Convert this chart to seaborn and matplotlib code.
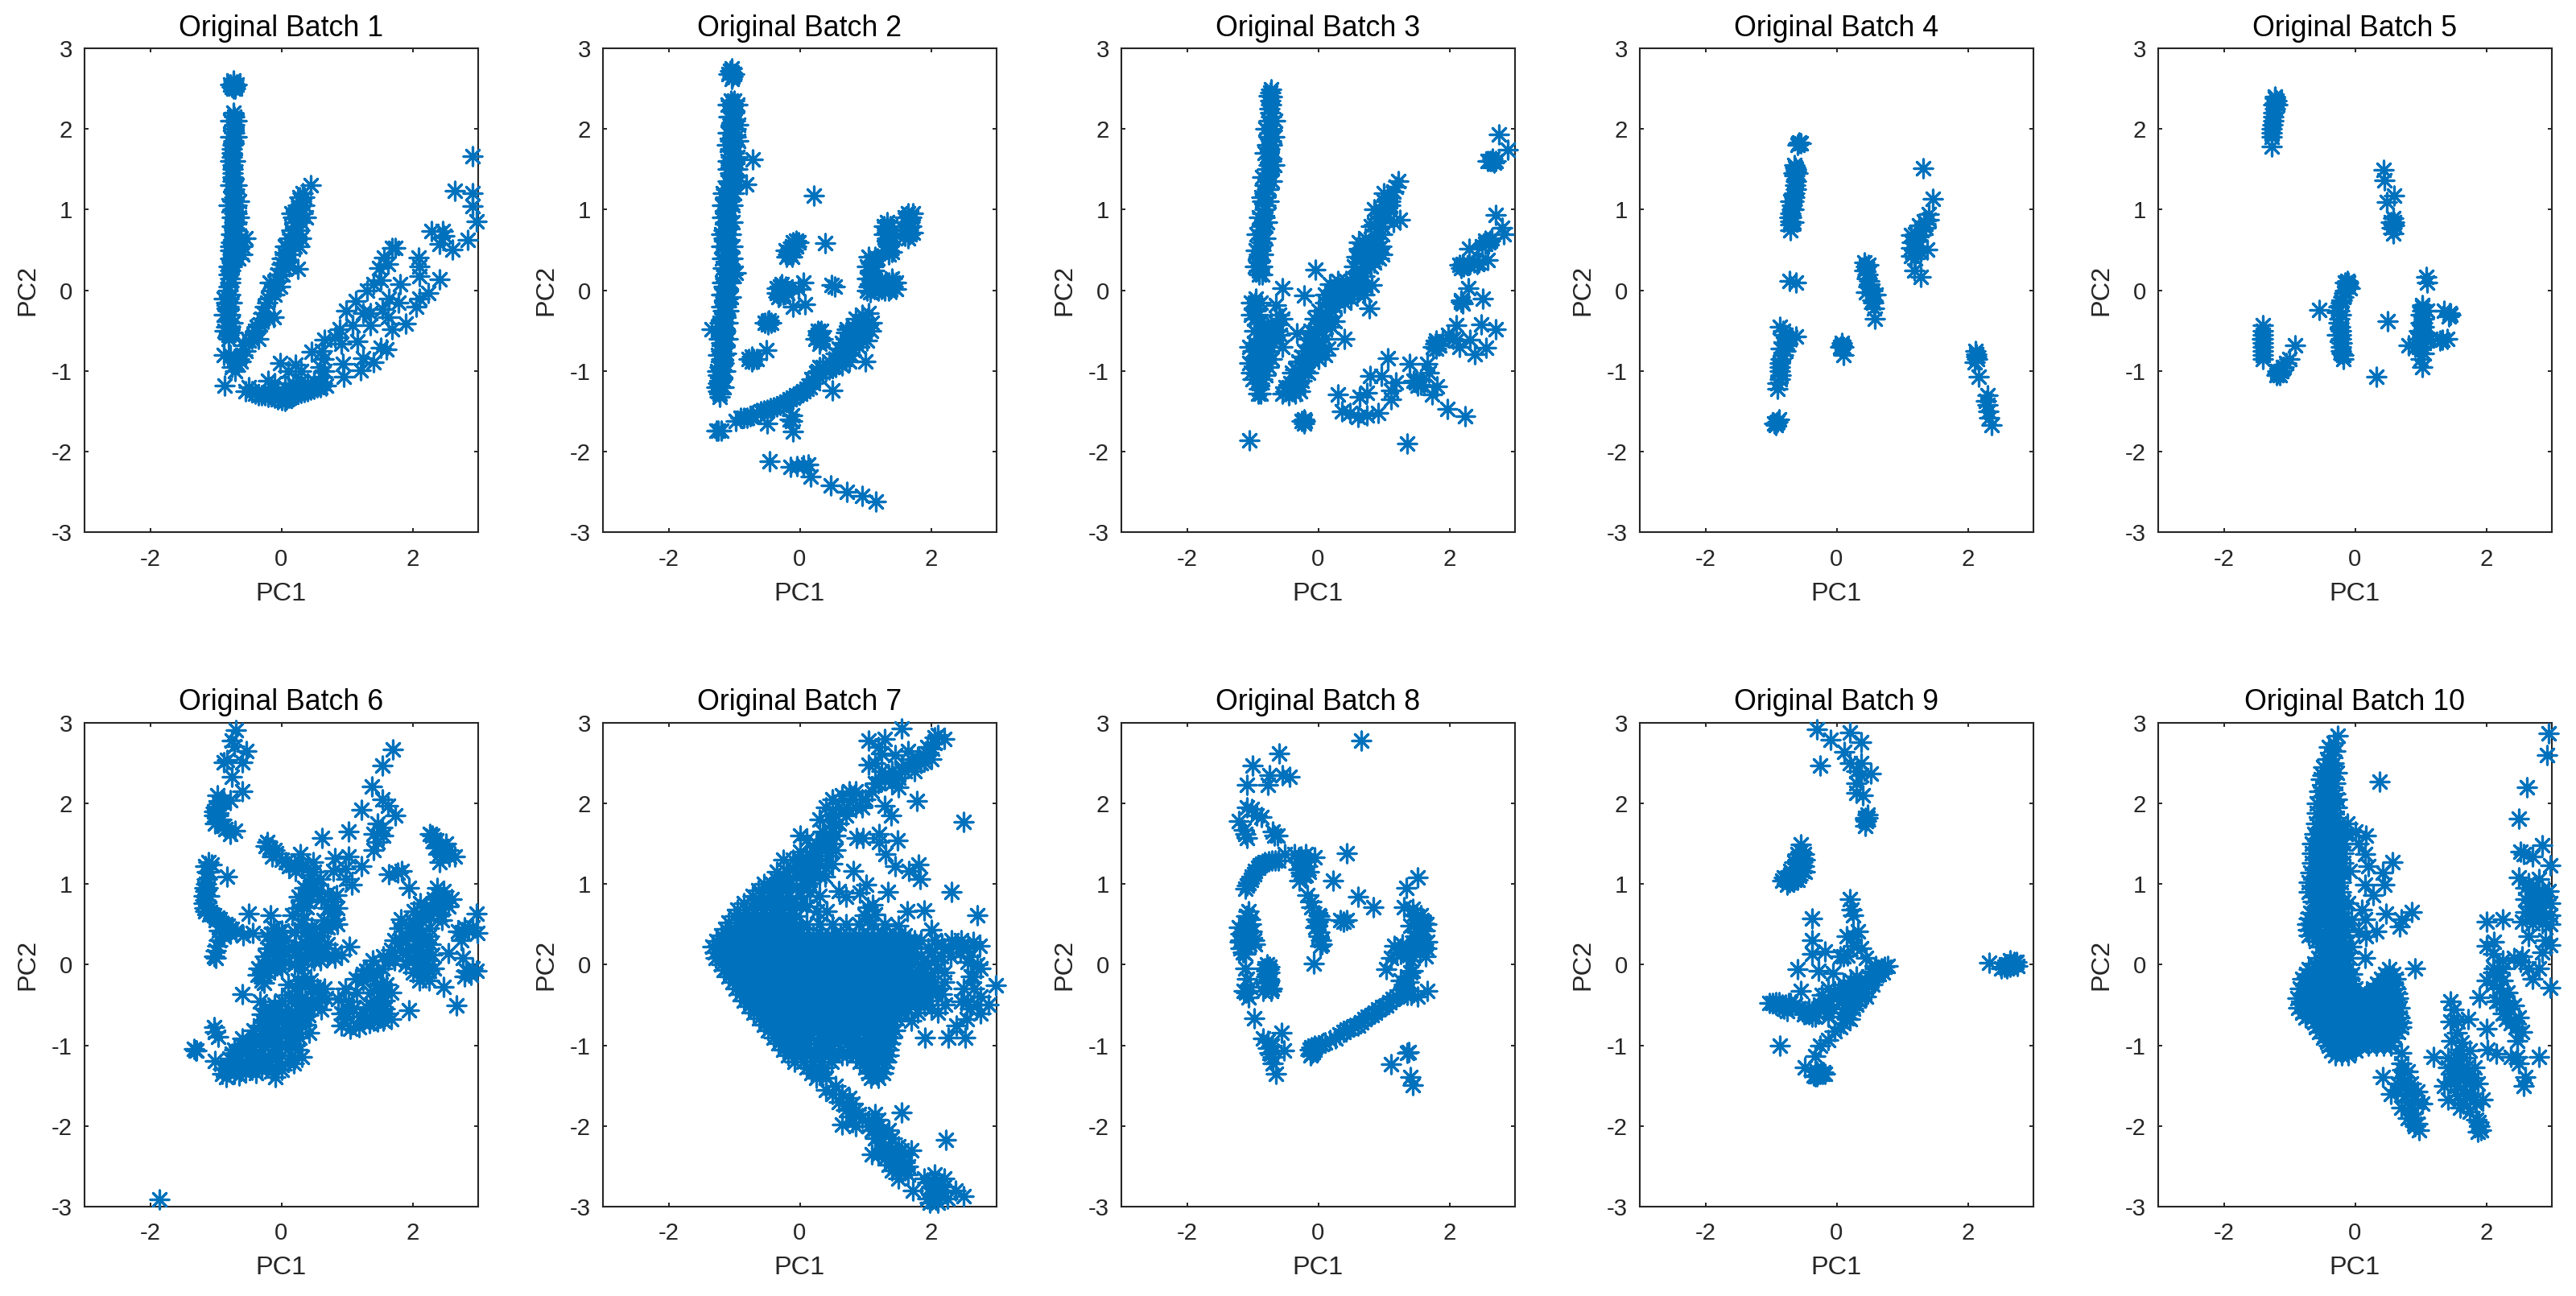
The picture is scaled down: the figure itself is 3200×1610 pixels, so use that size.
import pandas as pd
import matplotlib
matplotlib.use("Agg")
import matplotlib.pyplot as plt
import seaborn as sns

# points, (PC1, PC2)
batch1 = [
    (-0.73,2.6),(-0.73,2.55),(-0.73,2.5),(-0.7,2.5),(-0.73,2.2),(-0.72,2.1),(-0.73,2.0),(-0.72,1.9),(-0.74,1.8),(-0.75,1.7),
    (-0.75,1.6),(-0.74,1.5),(-0.74,1.4),(-0.73,1.3),(-0.72,1.2),(-0.74,1.1),(-0.76,1.05),(-0.68,1.05),(-0.74,1.0),(-0.68,0.95),
    (-0.75,0.9),(-0.68,0.85),(-0.76,0.8),(-0.68,0.75),(-0.77,0.7),(-0.68,0.7),(-0.62,0.65),(-0.55,0.65),(-0.77,0.6),(-0.7,0.6),
    (-0.6,0.55),(-0.6,0.45),(-0.78,0.5),(-0.7,0.5),(-0.78,0.4),(-0.72,0.4),(-0.8,0.3),(-0.75,0.3),(-0.8,0.2),(-0.78,0.1),
    (-0.82,0.0),(-0.78,-0.05),(-0.84,-0.15),(-0.8,-0.2),(-0.82,-0.3),(-0.78,-0.3),(-0.84,-0.45),(-0.78,-0.45),(-0.8,-0.55),
    (-0.88,-0.8),(-0.78,-0.8),(-0.72,-0.85),(-0.75,-0.95),(-0.68,-0.9),(-0.7,-1.0),(-0.62,-0.88),(-0.87,-1.18),
    (-0.55,-0.75),(-0.5,-0.62),(-0.42,-0.55),(-0.35,-0.6),(-0.38,-0.45),(-0.3,-0.35),(-0.2,-0.35),(-0.12,-0.33),(-0.25,-0.2),
    (-0.2,-0.1),(-0.15,0.0),(-0.1,-0.05),(-0.18,0.1),(-0.1,0.1),(-0.02,0.05),(-0.05,0.2),(0.02,0.2),(0.0,0.33),(0.07,0.35),
    (0.05,0.45),(0.12,0.45),(0.08,0.55),(0.2,0.55),(0.12,0.65),(0.22,0.65),(0.25,0.27),(0.15,0.75),(0.28,0.75),(0.2,0.85),
    (0.3,0.85),(0.22,0.95),(0.32,0.95),(0.25,1.05),(0.35,1.05),(0.28,1.15),(0.33,1.2),(0.45,1.3),
    (-0.5,-1.2),(-0.45,-1.25),(-0.55,-1.25),(-0.35,-1.3),(-0.25,-1.3),(-0.15,-1.3),(-0.05,-1.35),(0.05,-1.37),(0.12,-1.33),
    (0.2,-1.3),(0.3,-1.27),(0.4,-1.25),(0.5,-1.22),(0.6,-1.2),(0.68,-1.18),(-0.2,-1.12),(-0.1,-1.15),(-0.02,-0.9),(0.1,-1.0),
    (0.22,-0.92),(0.3,-1.0),(0.18,-1.15),(0.3,-1.12),(0.4,-1.15),(0.46,-0.76),(0.6,-0.95),(0.5,-1.12),(0.62,-1.07),(0.65,-0.85),
    (0.66,-0.61),(0.62,-0.75),(0.66,-1.0),(0.94,-0.91),(0.95,-1.07),(1.21,-0.99),(1.24,-0.84),(1.41,-0.89),(1.51,-0.71),(1.6,-0.73),
    (1.89,-0.41),(1.69,-0.48),(1.62,-0.33),(1.36,-0.43),(1.36,-0.28),(1.16,-0.63),(1.09,-0.43),(0.89,-0.48),(0.91,-0.66),(0.81,-0.58),
    (0.99,-0.25),(1.14,-0.13),(1.24,-0.28),(1.31,0.0),(1.41,0.08),(1.49,0.28),(1.62,0.33),(1.56,0.41),(1.69,0.53),(1.74,0.53),
    (1.51,0.13),(1.64,-0.1),(1.54,-0.23),(1.81,0.08),(1.79,-0.15),(2.09,0.41),(2.1,0.3),(2.11,0.18),(2.11,-0.1),(2.06,-0.2),
    (2.24,-0.03),(2.41,0.14),(2.29,0.74),(2.46,0.74),(2.41,0.58),(2.61,0.51),(2.84,0.63),(2.65,1.23),(2.91,1.66),(2.91,1.2),
    (2.91,1.04),(2.97,0.86),(2.49,0.68),
    (-0.73,2.57),(-0.7,2.53),(-0.76,2.52),(-0.72,2.15),(-0.72,2.05),(-0.72,1.95),(-0.73,1.85),(-0.75,1.75),(-0.75,1.65),(-0.74,1.55),
    (-0.74,1.45),(-0.74,1.35),(-0.72,1.25),(-0.72,1.15),(-0.72,1.05),(-0.72,0.95),(-0.72,0.85),(-0.72,0.75),(-0.72,0.65),(-0.73,0.55),
    (-0.74,0.45),(-0.76,0.35),(-0.78,0.25),(-0.78,0.15),(-0.8,0.05),(-0.8,-0.1),(-0.82,-0.25),(-0.8,-0.38),(-0.8,-0.5),(-0.8,-0.6),
    (-0.65,-0.85),(-0.6,-0.8),(-0.58,-0.68),(-0.45,-0.6),(-0.4,-0.5),(-0.33,-0.42),(-0.28,-0.28),(-0.22,-0.15),(-0.12,0.05),(-0.06,0.12),
    (-0.02,0.27),(0.05,0.28),(0.07,0.4),(0.1,0.5),(0.15,0.6),(0.17,0.7),(0.22,0.8),(0.25,0.9),(0.28,1.0),(0.3,1.1),
    (-0.4,-1.28),(-0.3,-1.3),(-0.2,-1.32),(-0.1,-1.33),(0.0,-1.36),(0.08,-1.35),(0.15,-1.32),(0.25,-1.28),(0.35,-1.26),(0.45,-1.23),
    (0.55,-1.2),(0.62,-1.15),(-0.15,-1.2),(-0.05,-1.25),(0.05,-1.2),(0.25,-1.2),
    (-0.88,-0.1),(-0.75,-0.15),(-0.88,-0.3),(-0.74,-0.4),(-0.86,-0.5),(-0.74,-0.52),(-0.78,0.55),(-0.66,0.4),(-0.65,0.9),(-0.8,1.05),(-0.65,1.1),
    (-0.78,1.3),(-0.68,1.3),(-0.78,1.6),(-0.7,1.6),(-0.78,1.9),(-0.68,1.9),(-0.68,2.1),(-0.78,2.1),(-0.68,2.55),(-0.78,2.55),(0.12,0.3),(0.0,0.4),
    (0.05,0.55),(0.28,0.55),(0.3,0.65),(0.18,0.9),(0.38,0.9),(0.15,0.95),(0.35,1.15),
]
batch2 = [
    (-1.04,2.75),(-1.08,2.68),(-1.0,2.68),(-1.04,2.62),(-1.05,2.35),(-1.0,2.35),(-1.03,2.28),(-1.0,2.2),(-1.05,2.15),(-0.99,2.1),
    (-1.05,2.05),(-0.98,2.0),(-1.05,1.95),(-0.98,1.9),(-1.06,1.85),(-1.0,1.8),(-1.06,1.75),(-1.0,1.7),(-1.05,1.65),(-1.0,1.6),
    (-1.05,1.55),(-1.0,1.5),(-1.06,1.45),(-1.0,1.4),(-1.1,1.35),(-1.03,1.3),(-1.12,1.25),(-1.05,1.2),(-1.14,1.15),(-1.07,1.1),
    (-1.14,1.05),(-1.07,1.0),(-1.14,0.95),(-1.08,0.9),(-1.14,0.85),(-1.08,0.8),(-1.16,0.75),(-1.1,0.7),(-1.16,0.65),(-1.1,0.6),
    (-1.16,0.55),(-1.08,0.5),(-1.14,0.45),(-1.08,0.4),(-1.12,0.35),(-1.05,0.3),(-1.12,0.25),(-1.03,0.2),(-1.14,0.15),(-1.1,0.1),
    (-1.16,0.05),(-1.1,0.0),(-1.17,-0.05),(-1.1,-0.1),(-1.15,-0.15),(-1.12,-0.2),(-1.17,-0.25),(-1.14,-0.3),(-1.19,-0.35),(-1.14,-0.4),
    (-1.19,-0.45),(-1.14,-0.5),(-1.19,-0.55),(-1.15,-0.6),(-1.2,-0.65),(-1.15,-0.7),(-1.2,-0.75),(-1.16,-0.8),(-1.2,-0.85),(-1.16,-0.9),
    (-1.22,-0.95),(-1.18,-1.0),(-1.24,-1.05),(-1.18,-1.1),(-1.24,-1.15),(-1.2,-1.2),(-1.24,-1.25),(-1.22,-1.32),(-1.34,-0.48),
    (-0.72,1.62),(-0.82,1.31),(0.21,1.17),(0.39,0.59),(0.53,0.05),(0.48,0.07),(0.06,0.1),(-0.02,0.02),(0.08,-0.17),(-0.1,-0.2),
    (-0.05,0.62),(-0.1,0.6),(-0.14,0.52),(-0.18,0.45),(-0.2,0.42),(-0.1,0.5),
    (-0.3,0.05),(-0.3,-0.03),(-0.22,0.05),(-0.22,0.0),(-0.27,0.08),(-0.32,-0.08),
    (-0.49,-0.38),(-0.49,-0.42),(-0.47,-0.37),(-0.51,-0.74),(-0.73,-0.82),(-0.7,-0.85),(-0.73,-0.88),
    (0.28,-0.5),(0.3,-0.58),(0.3,-0.66),(0.32,-0.5),
    (-0.97,-1.62),(-0.9,-1.58),(-0.8,-1.58),(-0.72,-1.55),(-0.6,-1.5),(-0.5,-1.48),(-0.4,-1.45),(-0.3,-1.42),(-0.2,-1.38),(-0.1,-1.33),
    (0.0,-1.28),(0.1,-1.22),(0.2,-1.15),(0.25,-1.02),(0.15,-1.2),(0.3,-1.08),(0.35,-0.95),(0.45,-0.98),(0.55,-0.95),(0.65,-0.93),
    (0.75,-0.88),(0.65,-0.75),(0.8,-0.72),(0.7,-0.6),(0.6,-0.72),(0.72,-0.48),(0.82,-0.45),(0.85,-0.58),(0.92,-0.4),(0.95,-0.3),
    (1.0,-0.45),(1.08,-0.5),(1.05,-0.28),(1.02,-0.62),(1.0,-0.88),(0.5,-1.24),(-0.5,-1.65),(-0.1,-1.75),(-0.15,-1.6),(-0.12,-1.55),
    (-1.25,-1.74),(-1.2,-1.74),(-1.27,-1.74),
    (1.33,0.85),(1.33,0.75),(1.33,0.65),(1.35,0.55),(1.35,0.45),(1.28,0.8),(1.38,0.8),
    (1.05,0.42),(1.15,0.42),(1.1,0.35),(1.07,0.25),(1.07,0.15),(1.05,0.05),(1.07,-0.02),(1.18,0.4),
    (1.4,0.15),(1.42,0.05),(1.35,0.0),(1.42,0.1),(1.3,0.0),(1.2,0.0),(1.35,0.1),
    (1.65,0.95),(1.67,0.85),(1.65,0.75),(1.68,0.7),(1.65,0.65),
    (-0.46,-2.12),(-0.14,-2.19),(-0.04,-2.18),(0.06,-2.17),(0.13,-2.16),(0.16,-2.31),(0.47,-2.42),(0.72,-2.5),(0.95,-2.55),(1.16,-2.62),
    (-1.02,2.32),(-1.02,2.22),(-1.02,2.12),(-1.02,2.02),(-1.02,1.92),(-1.03,1.82),(-1.03,1.72),(-1.03,1.62),(-1.03,1.52),(-1.03,1.42),
    (-1.07,1.32),(-1.09,1.22),(-1.1,1.12),(-1.1,1.02),(-1.11,0.92),(-1.11,0.82),(-1.13,0.72),(-1.13,0.62),(-1.12,0.52),(-1.11,0.42),
    (-1.09,0.32),(-1.08,0.22),(-1.12,0.12),(-1.13,0.02),(-1.13,-0.08),(-1.14,-0.18),(-1.15,-0.28),(-1.17,-0.38),(-1.17,-0.48),(-1.17,-0.58),
    (-1.18,-0.68),(-1.18,-0.78),(-1.18,-0.88),(-1.2,-0.98),(-1.21,-1.08),(-1.22,-1.18),(-1.22,-1.28),(-1.04,2.7),(-1.02,2.65),(-1.06,2.72),
    (-0.08,0.58),(-0.12,0.55),(-0.16,0.48),(-0.14,0.45),(-0.06,0.55),(-0.27,0.0),(-0.25,-0.05),(-0.28,0.03),(-0.24,0.02),(-0.3,-0.06),
    (-0.49,-0.4),(-0.72,-0.85),(0.28,-0.55),(0.31,-0.62),(0.3,-0.52),
    (-0.85,-1.58),(-0.76,-1.56),(-0.66,-1.52),(-0.55,-1.49),(-0.45,-1.46),(-0.35,-1.44),(-0.25,-1.4),(-0.15,-1.35),(-0.05,-1.3),(0.05,-1.25),
    (0.18,-1.1),(0.28,-1.0),(0.4,-1.0),(0.5,-0.95),(0.6,-0.9),(0.7,-0.85),(0.55,-0.85),(0.65,-0.8),(0.75,-0.72),(0.75,-0.6),(0.82,-0.55),
    (0.88,-0.52),(0.8,-0.5),(0.9,-0.45),(0.95,-0.5),(1.0,-0.35),(0.7,-0.7),(-0.12,-1.62),
    (1.33,0.7),(1.33,0.8),(1.34,0.6),(1.35,0.5),(1.1,0.2),(1.08,0.08),(1.12,0.3),(1.08,0.35),(1.38,0.02),(1.25,0.02),(1.3,0.08),(1.4,0.08),
    (1.65,0.9),(1.66,0.8),(1.66,0.72),(1.62,0.85),(1.7,0.9),
    (-1.1,2.3),(-0.95,2.3),(-1.08,2.15),(-0.94,2.05),(-1.1,1.95),(-0.94,1.85),(-1.11,1.8),(-0.95,1.65),(-1.1,1.6),(-0.95,1.5),(-1.1,1.5),(-0.97,1.35),
    (-1.17,1.2),(-1.0,1.2),(-1.18,1.05),(-1.02,1.05),(-1.18,0.9),(-1.03,0.85),(-1.2,0.7),(-1.05,0.7),(-1.2,0.55),(-1.03,0.55),(-1.18,0.4),(-1.03,0.4),
    (-1.17,0.28),(-0.98,0.22),(-1.18,0.1),(-1.05,0.1),(-1.2,-0.05),(-1.05,-0.08),(-1.2,-0.2),(-1.08,-0.25),(-1.22,-0.4),(-1.1,-0.4),(-1.23,-0.6),(-1.1,-0.6),
    (-1.25,-0.8),(-1.12,-0.78),(-1.26,-1.0),(-1.14,-1.0),(-1.27,-1.2),(-1.16,-1.2),
    (1.28,0.7),(1.38,0.7),(1.38,0.58),(1.3,0.5),(1.4,0.48),(1.03,0.3),(1.14,0.25),(1.02,0.15),(1.13,0.12),(1.02,0.0),(1.13,0.02),(1.25,0.1),(1.47,0.1),(1.47,0.02),
    (1.6,0.9),(1.7,0.8),(1.6,0.75),(1.72,0.72),(1.6,0.68),(1.72,0.95),(-0.02,0.6),(-0.12,0.42),(-0.22,0.5),(-0.35,0.03),(-0.19,-0.03),(-0.35,-0.03),(-0.44,-0.4),
    (-0.53,-0.4),(-0.66,-0.85),(-0.78,-0.85),(0.24,-0.6),(0.35,-0.6),(0.3,-0.95),(0.45,-0.88),(0.55,-0.78),(0.65,-0.65),(0.78,-0.8),(0.9,-0.7),(0.8,-0.62),
    (0.95,-0.62),(0.85,-0.35),(0.78,-0.55),(1.1,-0.4),(0.7,-0.52),(0.92,-0.55),
]
batch3 = [
    (-0.72,2.49),(-0.76,2.41),(-0.7,2.4),(-0.74,2.25),(-0.72,2.15),(-0.75,2.1),(-0.72,2.0),(-0.7,1.98),(-0.76,1.9),(-0.72,1.85),
    (-0.78,1.8),(-0.7,1.8),(-0.72,1.6),(-0.75,1.7),(-0.72,1.55),(-0.78,1.5),(-0.75,1.42),(-0.82,1.3),(-0.78,1.35),(-0.75,1.25),
    (-0.82,1.2),(-0.85,1.1),(-0.8,1.05),(-0.85,0.95),(-0.82,0.9),(-0.87,0.8),(-0.85,0.72),(-0.87,0.6),(-0.88,0.5),(-0.92,0.4),
    (-0.9,0.3),(-0.9,0.2),(-0.95,-0.1),(-0.97,-0.22),(-0.92,-0.3),(-0.98,-0.35),(-0.54,0.03),(-0.64,-0.18),(-0.6,-0.3),(-0.55,-0.35),
    (-0.65,-0.4),(-0.72,-0.4),(-0.7,-0.5),(-0.62,-0.5),(-0.75,-0.55),(-0.68,-0.65),(-0.55,-0.7),(-0.98,-0.65),(-1.0,-0.75),(-0.9,-0.6),
    (-0.85,-0.7),(-0.75,-0.75),(-0.95,-0.85),(-0.85,-0.85),(-1.03,-1.02),(-0.95,-0.95),(-0.85,-0.95),(-0.9,-1.05),(-0.85,-1.1),
    (-0.92,-1.28),(-0.88,-1.28),(-0.9,-1.15),(-1.05,-0.9),
    (-0.55,-1.28),(-0.45,-1.3),(-0.35,-1.28),(-0.28,-1.25),(-0.5,-1.2),(-0.42,-1.15),(-0.35,-1.1),(-0.25,-1.12),(-0.4,-1.02),(-0.3,-1.0),
    (-0.15,-1.02),(-0.3,-0.88),(-0.2,-0.9),(-0.1,-0.85),(-0.22,-0.75),(-0.12,-0.7),(0.05,-0.75),(0.15,-0.72),(-0.15,-0.6),(0.0,-0.62),
    (0.1,-0.6),(-0.32,-0.53),(-0.12,-0.5),(-0.02,-0.45),(0.12,-0.45),(0.2,-0.45),(-0.05,-0.35),(0.15,-0.32),(0.2,-0.25),(0.1,-0.28),
    (0.22,-0.1),(0.1,-0.05),(0.2,0.0),(0.3,0.05),(0.4,0.0),(0.3,-0.1),(0.4,-0.15),(0.5,-0.1),(0.45,0.05),(0.55,0.08),(0.6,-0.03),
    (0.7,-0.05),(0.65,0.1),(0.72,0.05),(0.82,0.07),(0.78,-0.22),(0.4,-0.6),(0.3,-0.12),(0.28,0.02),(0.25,-0.2),
    (0.6,0.15),(0.55,0.3),(0.65,0.25),(0.7,0.35),(0.65,0.4),(0.68,0.5),(0.72,0.55),(0.8,0.45),(0.85,0.48),(0.82,0.6),(0.9,0.52),
    (0.9,0.65),(0.93,0.4),(0.8,0.3),(0.8,0.8),(0.9,0.85),(0.85,0.82),(0.97,0.8),(0.85,1.0),(1.0,0.9),(0.95,1.0),(1.05,0.95),(1.0,1.1),
    (1.1,1.05),(1.15,0.85),(1.25,0.88),(1.0,1.2),(1.1,1.15),(1.15,1.22),(1.22,1.35),
    (-0.22,-0.06),(-0.04,0.26),(-1.05,-1.86),(-0.25,-1.62),(-0.2,-1.62),(-0.22,-1.65),
    (0.3,-1.29),(0.36,-1.5),(0.49,-1.52),(0.61,-1.57),(0.74,-1.55),(0.91,-1.52),(0.63,-1.32),(0.74,-1.27),(0.79,-1.06),(0.96,-1.06),
    (1.06,-0.84),(1.11,-1.35),(1.11,-1.24),(1.19,-1.14),(1.39,-0.91),(1.36,-1.9),(1.49,-1.14),(1.56,-1.17),(1.45,-1.12),(1.66,-0.91),
    (1.69,-1.02),(1.81,-1.19),(1.74,-1.29),(1.97,-1.47),(2.24,-1.56),
    (1.75,-0.7),(1.8,-0.72),(1.85,-0.68),(1.8,-0.62),(1.9,-0.62),(1.98,-0.55),(2.05,-0.6),(2.1,-0.62),(2.15,-0.7),(2.11,-0.43),
    (2.49,-0.42),(2.31,-0.61),(2.39,-0.79),(2.56,-0.71),(2.71,-0.48),(2.19,-0.14),(2.18,-0.12),(2.2,-0.16),(2.51,-0.1),(2.29,0.03),
    (2.15,0.32),(2.22,0.3),(2.3,0.32),(2.38,0.35),(2.45,0.35),(2.3,0.52),(2.5,0.55),(2.55,0.62),(2.62,0.62),(2.58,0.38),(2.65,0.65),
    (2.7,0.93),(2.8,0.78),(2.83,0.7),(2.62,1.6),(2.7,1.6),(2.66,1.63),(2.75,1.93),(2.89,1.74),
    (-0.73,2.45),(-0.73,2.35),(-0.72,2.3),(-0.73,2.2),(-0.73,2.05),(-0.74,1.95),(-0.74,1.75),(-0.74,1.65),(-0.75,1.55),(-0.76,1.45),
    (-0.78,1.25),(-0.8,1.15),(-0.82,1.0),(-0.84,0.85),(-0.86,0.75),(-0.86,0.65),(-0.88,0.55),(-0.9,0.45),(-0.9,0.35),(-0.9,0.25),
    (-0.96,-0.15),(-0.95,-0.25),(-0.62,-0.42),(-0.67,-0.55),(-0.75,-0.6),(-0.85,-0.6),(-0.93,-0.7),(-0.9,-0.8),(-0.8,-0.8),(-0.78,-0.65),
    (-0.9,-0.9),(-0.95,-0.75),(-0.88,-1.0),(-0.9,-1.1),(-0.9,-1.22),(-0.8,-0.9),
    (-0.5,-1.25),(-0.4,-1.25),(-0.35,-1.18),(-0.45,-1.2),(-0.3,-1.15),(-0.35,-0.98),(-0.25,-0.95),(-0.28,-1.05),(-0.2,-1.0),(-0.25,-0.82),
    (-0.15,-0.8),(-0.15,-0.68),(-0.05,-0.7),(-0.05,-0.55),(0.05,-0.5),(0.0,-0.4),(0.05,-0.35),(0.1,-0.15),(0.18,-0.18),(0.15,-0.1),(0.25,-0.05),
    (0.35,-0.05),(0.45,-0.05),(0.5,0.02),(0.55,-0.02),(0.62,0.03),(0.65,0.18),(0.68,0.3),(0.72,0.45),(0.75,0.5),(0.78,0.55),(0.85,0.55),(0.75,0.38),
    (0.88,0.6),(0.95,0.95),(1.05,1.05),(1.1,1.1),(1.18,1.28),(2.18,-0.14),(-0.22,-1.6),(2.64,1.6),(2.58,1.6),(2.68,1.58),(1.83,-0.68),(1.78,-0.66),
    (2.2,0.33),(2.42,0.33),(2.55,0.58),(2.6,0.6),(2.18,0.28),(1.5,-1.12),(1.52,-1.18),
    (-0.66,2.1),(-0.8,2.0),(-0.67,1.9),(-0.82,1.7),(-0.67,1.55),(-0.85,1.4),(-0.7,1.35),(-0.87,1.15),(-0.75,1.1),(-0.9,0.9),(-0.78,0.85),(-0.94,0.7),(-0.8,0.65),
    (-0.95,0.5),(-0.84,0.45),(-0.85,0.3),(-0.96,0.3),(-0.85,0.2),(-0.88,-0.15),(-1.02,-0.15),(-1.03,-0.3),(-0.9,-0.4),(-0.88,-0.5),(-0.98,-0.5),(-1.05,-0.7),
    (-0.7,-0.85),(-0.75,-0.95),(-0.8,-1.05),(-1.0,-1.1),(-0.78,-0.45),(-0.58,-0.55),(0.0,-0.85),(0.1,-0.8),(0.0,-0.25),(0.1,-0.4),(0.25,-0.38),(0.18,0.08),(0.3,0.12),
    (0.42,0.12),(0.55,0.15),(0.7,0.18),(0.58,0.42),(0.62,0.52),(0.62,0.6),(0.72,0.65),(0.85,0.35),(0.98,0.45),(0.96,0.55),(0.98,0.7),
]
batch4 = [
    (-0.57,1.83),(-0.6,1.8),(-0.55,1.82),(-0.65,1.55),(-0.62,1.5),(-0.66,1.45),(-0.62,1.35),(-0.6,1.45),(-0.62,1.25),(-0.65,1.15),
    (-0.68,1.05),(-0.66,1.0),(-0.7,0.95),(-0.72,0.9),(-0.7,0.82),(-0.7,0.75),(-0.66,0.85),(-0.7,1.1),(-0.72,0.12),(-0.62,0.1),
    (-0.87,-0.45),(-0.82,-0.5),(-0.78,-0.55),(-0.7,-0.58),(-0.62,-0.57),(-0.8,-0.65),(-0.75,-0.65),(-0.85,-0.72),(-0.78,-0.75),
    (-0.85,-0.85),(-0.87,-0.95),(-0.85,-1.05),(-0.9,-1.15),(-0.9,-1.22),(-0.95,-1.65),(-0.9,-1.63),(-0.88,-1.6),(-0.93,-1.67),
    (0.08,-0.7),(0.1,-0.7),(0.05,-0.7),(0.1,-0.8),(0.08,-0.65),
    (0.42,0.35),(0.48,0.32),(0.42,0.25),(0.47,0.2),(0.5,0.12),(0.48,0.05),(0.55,0.0),(0.45,-0.02),(0.6,-0.05),(0.55,-0.12),(0.57,-0.22),(0.58,-0.35),
    (1.32,1.51),(1.47,1.13),(1.41,0.94),(1.33,0.86),(1.26,0.81),(1.13,0.69),(1.35,0.83),(1.13,0.53),(1.13,0.43),(1.28,0.48),(1.38,0.51),
    (1.18,0.25),(1.28,0.17),(1.2,0.61),(1.28,0.69),
    (2.13,-0.79),(2.11,-0.89),(2.16,-1.07),(2.28,-1.37),(2.31,-1.5),(2.36,-1.67),(2.12,-0.75),(2.14,-0.85),(2.3,-1.3),
    (-0.63,1.52),(-0.64,1.42),(-0.63,1.3),(-0.64,1.2),(-0.66,1.1),(-0.68,1.0),(-0.69,0.9),(-0.7,0.86),(-0.58,1.82),(-0.62,1.48),(-0.8,-0.55),(-0.75,-0.6),
    (-0.8,-0.72),(-0.82,-0.8),(-0.86,-0.9),(-0.86,-1.0),(-0.87,-1.1),(-0.92,-1.64),(0.08,-0.68),(0.45,0.3),(0.46,0.15),(0.5,0.08),(0.55,-0.05),(0.56,-0.15),
    (1.2,0.5),(1.15,0.6),(1.25,0.55),(1.2,0.4),(1.3,0.75),(1.35,0.78),(1.2,0.7),(2.13,-0.82),(2.3,-1.42),(2.33,-1.58),(1.4,0.88),
]
batch5 = [
    (-1.22,2.38),(-1.2,2.35),(-1.24,2.3),(-1.22,2.25),(-1.18,2.3),(-1.25,2.2),(-1.25,2.1),(-1.27,2.0),(-1.27,1.95),(-1.27,1.9),(-1.27,1.78),
    (0.43,1.49),(0.45,1.36),(0.6,1.17),(0.49,1.09),(0.58,0.89),(0.59,0.81),(0.58,0.71),(0.55,0.85),(0.6,0.85),
    (-1.4,-0.43),(-1.4,-0.5),(-1.4,-0.6),(-1.4,-0.7),(-1.42,-0.6),(-1.4,-0.8),(-1.4,-0.85),(-1.4,-0.55),
    (-1.2,-1.05),(-1.15,-1.05),(-1.12,-1.0),(-1.1,-0.95),(-1.05,-0.9),(-1.0,-0.85),(-0.92,-0.68),(-1.18,-1.0),(-0.54,-0.24),
    (-0.12,0.12),(-0.1,0.05),(-0.15,0.0),(-0.08,0.03),(-0.18,-0.08),(-0.22,-0.15),(-0.25,-0.2),(-0.22,-0.3),(-0.25,-0.4),(-0.22,-0.5),
    (-0.22,-0.6),(-0.2,-0.65),(-0.22,-0.75),(-0.18,-0.8),(-0.18,-0.85),(-0.28,-0.27),(-0.15,0.1),(-0.28,-0.55),(0.5,-0.38),(0.33,-1.07),
    (1.08,0.17),(1.1,0.1),(1.03,-0.18),(1.02,-0.25),(1.0,-0.3),(1.05,-0.35),(1.0,-0.4),(1.05,-0.45),(0.98,-0.5),(1.02,-0.55),(0.95,-0.6),
    (1.05,-0.65),(1.1,-0.6),(0.82,-0.68),(0.92,-0.7),(1.05,-0.78),(1.0,-0.85),(1.02,-0.95),(1.1,-0.25),(1.15,-0.6),
    (1.35,-0.25),(1.43,-0.32),(1.45,-0.3),(1.33,-0.61),(1.4,-0.6),(1.3,-0.62),(1.02,-0.7),
    (-1.22,2.32),(-1.22,2.4),(-1.25,2.15),(-1.26,2.05),(-1.4,-0.65),(-1.4,-0.75),(-1.18,-1.03),(-1.13,-1.0),(-1.08,-0.95),(-0.12,0.08),(-0.1,0.1),
    (-0.17,-0.03),(-0.2,-0.12),(-0.24,-0.25),(-0.24,-0.35),(-0.23,-0.45),(-0.22,-0.55),(-0.22,-0.7),(-0.2,-0.78),(1.02,-0.2),(1.02,-0.3),(1.03,-0.4),
    (1.02,-0.5),(1.0,-0.6),(1.0,-0.65),(1.05,-0.55),(0.97,-0.7),(0.58,0.83),(0.56,0.78),(1.44,-0.28),
]
batch6 = [
    (-0.69,2.91),(-0.76,2.78),(-0.72,2.71),(-0.53,2.65),(-0.88,2.51),(-0.83,2.54),(-0.6,2.51),(-0.75,2.33),(-0.6,2.15),
    (-0.98,2.1),(-0.78,2.04),(-0.88,2.03),(-1.03,1.9),(-0.96,1.85),(-1.01,1.75),(-0.88,1.72),(-0.78,1.62),(-0.71,1.66),(-1.0,1.95),(-0.95,2.0),
    (-1.11,1.27),(-1.16,1.22),(-1.06,1.24),(-1.13,1.06),(-1.16,0.91),(-1.18,0.76),(-1.16,0.66),(-1.03,0.61),(-0.94,0.56),(-0.81,0.48),(-0.69,0.41),
    (-0.88,0.35),(-0.98,0.23),(-1.03,0.1),(-1.0,0.08),(-0.83,1.09),(-0.43,0.39),(-0.5,0.63),(-0.17,0.61),(-0.58,0.36),
    (-1.15,1.0),(-1.18,0.85),(-1.1,0.7),(-1.0,0.55),(-0.85,0.42),(-1.1,0.85),(-1.1,1.15),
    (-0.21,1.52),(-0.24,1.47),(-0.11,1.42),(-0.14,1.34),(0.07,1.27),(0.29,1.37),(0.22,1.16),(0.49,1.27),(0.44,1.11),(0.59,1.06),(0.62,1.57),
    (0.81,1.32),(1.02,1.65),(1.02,1.34),(0.79,1.16),(0.97,1.19),(1.22,1.22),(1.07,0.99),(0.99,1.06),
    (1.22,1.92),(1.38,2.21),(1.54,2.47),(1.7,2.67),(1.54,2.05),(1.62,1.97),(1.74,1.85),(1.47,1.75),(1.54,1.7),(1.41,1.62),(1.47,1.52),(1.41,1.42),(1.55,1.6),
    (1.64,1.12),(1.84,1.16),(1.77,1.14),(1.94,0.95),
    (2.26,1.62),(2.36,1.54),(2.44,1.47),(2.51,1.42),(2.41,1.37),(2.56,1.34),(2.64,1.34),(2.41,1.27),(2.33,1.55),(2.51,1.5),
    (0.39,0.86),(0.26,0.84),(0.44,0.96),(0.84,0.86),(0.76,0.71),(0.81,0.56),(0.71,0.46),(0.61,0.81),(0.39,0.71),(0.16,0.61),(0.34,0.56),(0.46,0.46),
    (0.36,0.41),(0.59,0.35),(0.66,0.2),(0.51,0.15),(0.59,0.05),(0.81,0.08),(1.04,0.22),(0.36,0.25),(0.46,0.08),(0.31,0.0),(0.21,0.23),
    (-0.06,0.3),(-0.14,0.25),(-0.04,0.41),(0.06,0.3),(-0.09,0.1),(0.01,0.1),(0.06,0.03),(-0.29,-0.1),(-0.16,-0.05),(-0.36,-0.13),(-0.26,-0.23),(0.01,-0.05),
    (0.36,-0.25),(0.21,-0.28),(0.49,-0.3),(0.11,-0.38),(0.66,-0.3),(-0.33,-0.46),(-0.6,-0.37),(0.31,-0.41),(0.46,-0.46),(0.61,-0.56),(-0.04,-0.56),
    (0.11,-0.56),(0.26,-0.56),(0.41,-0.63),(-0.16,-0.61),(0.01,-0.71),(0.16,-0.71),(0.31,-0.76),(-0.33,-0.76),(-0.14,-0.78),(0.01,-0.86),(0.19,-0.89),
    (-0.59,-0.91),(-0.39,-0.96),(-0.24,-0.94),(-0.09,-1.01),(0.11,-1.04),(0.31,-1.14),(0.19,-1.22),(0.01,-1.24),(-0.09,-1.39),(-0.14,-1.27),(-0.29,-1.22),
    (-0.44,-1.22),(-0.39,-1.34),(-0.54,-1.32),(-0.69,-1.09),(-0.54,-1.09),(-0.84,-1.39),(-0.89,-1.29),(-0.74,-1.27),(-1.01,-1.19),(-0.64,-1.37),(-0.79,-1.16),
    (-1.01,-0.84),(-0.96,-0.89),(-1.03,-0.78),(-1.31,-1.06),(-1.33,-1.04),(-1.29,-1.06),(-1.86,-2.91),
    (0.97,-0.3),(0.87,-0.43),(1.02,-0.46),(0.92,-0.61),(0.92,-0.76),(1.19,-0.78),(1.34,-0.73),(1.29,-0.53),(1.24,-0.2),(1.39,0.05),(1.29,-0.08),(1.54,-0.05),
    (1.52,-0.25),(1.49,-0.46),(1.67,-0.35),(1.59,-0.61),(1.47,-0.71),(1.67,-0.68),(1.94,-0.57),(1.39,-0.15),(1.67,0.18),(1.62,0.05),(1.14,-0.18),
    (1.82,0.56),(1.82,0.3),(1.97,0.41),(2.12,0.35),(2.27,0.25),(1.92,0.15),(2.07,0.15),(2.22,0.05),(2.32,-0.05),(2.17,-0.15),(2.07,-0.05),(1.89,0.0),
    (2.47,-0.28),(2.67,-0.51),(2.54,0.14),(2.02,0.66),(2.17,0.66),(2.12,0.76),(2.27,0.61),(2.42,0.71),(2.47,0.91),(2.32,0.81),(2.59,0.81),(2.39,0.86),
    (2.69,0.41),(2.79,0.46),(2.74,0.3),(2.92,0.46),(2.98,0.63),(2.99,0.39),(2.77,0.08),(2.82,-0.08),(2.92,-0.05),(2.79,-0.15),(2.97,-0.08),(2.89,-0.13),
    (-1.13,1.15),(-1.17,0.95),(-1.12,0.95),(-1.16,0.8),(-1.17,0.7),(-1.1,0.62),(-1.08,0.65),(-0.98,0.58),(-0.9,0.5),(-0.75,0.44),(-0.85,0.5),(-0.78,0.38),
    (-0.95,0.3),(-1.0,0.17),(-0.95,0.42),(-0.9,0.4),(-0.98,1.88),(-0.92,1.8),(-0.97,1.78),(-1.02,1.85),(-0.85,1.68),(-0.92,2.02),
    (0.4,0.78),(0.45,0.85),(0.3,0.8),(0.35,0.95),(0.5,1.0),(0.8,0.78),(0.78,0.65),(0.75,0.5),(0.7,0.88),(0.5,0.4),(0.45,0.3),(0.55,0.25),(0.6,0.15),(0.4,0.15),
    (0.5,0.05),(0.7,0.1),(0.3,0.1),(0.2,0.0),(-0.1,0.3),(-0.05,0.2),(-0.12,0.15),(-0.02,0.22),(-0.15,0.38),(-0.07,0.05),(-0.2,-0.1),(-0.1,-0.05),
    (-0.18,1.45),(-0.08,1.38),(0.0,1.3),(0.12,1.22),(0.2,1.25),(0.32,1.2),(0.4,1.2),(0.5,1.15),(0.45,1.0),
    (0.2,-0.4),(0.3,-0.5),(0.4,-0.55),(0.5,-0.52),(0.55,-0.45),(0.35,-0.65),(0.2,-0.65),(0.08,-0.65),(-0.05,-0.65),(-0.1,-0.72),(0.08,-0.78),(0.22,-0.8),(0.25,-0.7),
    (0.1,-0.9),(-0.05,-0.9),(-0.15,-0.87),(-0.28,-0.88),(-0.4,-1.1),(-0.3,-1.05),(-0.15,-1.1),(0.0,-1.12),(0.15,-1.12),(0.25,-1.05),(0.1,-1.2),(-0.05,-1.2),(-0.2,-1.18),
    (-0.35,-1.18),(-0.5,-1.18),(-0.6,-1.2),(-0.7,-1.2),(-0.8,-1.25),(-0.6,-1.3),(-0.45,-1.3),(-0.3,-1.3),(-0.15,-1.32),(0.0,-1.3),(-0.72,-1.35),(-0.8,-1.32),(-0.6,-1.0),
    (1.0,-0.55),(0.95,-0.68),(1.3,-0.65),(1.4,-0.7),(1.55,-0.7),(1.5,-0.6),(1.42,-0.55),(1.5,-0.35),(1.58,-0.45),(1.45,-0.25),(1.35,-0.05),(1.25,-0.12),
    (1.9,0.3),(2.0,0.35),(2.05,0.25),(2.15,0.25),(2.2,0.15),(2.0,0.05),(2.1,0.05),(2.25,-0.08),(2.15,-0.05),(1.95,0.45),(2.05,0.5),(2.1,0.45),(2.15,0.6),(2.3,0.7),
    (2.35,0.75),(2.45,0.8),(2.5,0.8),(2.2,0.72),(2.42,0.62),(2.85,-0.1),(2.75,0.4),(2.85,0.42),(2.35,1.45),(2.45,1.4),(2.3,1.6),(2.55,1.42),
    (0.25,0.7),(0.55,0.9),(0.7,0.7),(0.85,0.7),(0.65,0.55),(0.85,0.5),(0.62,0.4),(0.3,0.5),(0.2,0.4),(0.1,0.2),(0.2,0.12),(0.3,0.22),(0.4,0.35),(0.48,0.22),(0.58,0.15),
    (0.7,0.25),(0.82,0.15),(0.92,0.12),(-0.2,0.2),(-0.22,0.35),(-0.12,0.45),(-0.25,0.1),(-0.18,0.0),(-0.28,0.0),(-0.35,-0.05),(-0.3,-0.2),(0.0,0.42),(0.05,0.18),
    (0.1,-0.25),(0.25,-0.2),(0.35,-0.15),(0.45,-0.2),(0.55,-0.3),(0.58,-0.42),(0.68,-0.42),(0.15,-0.45),(0.0,-0.45),(-0.1,-0.5),(-0.25,-0.55),(-0.3,-0.62),(-0.2,-0.7),
    (-0.28,-0.72),(-0.42,-0.82),(-0.5,-0.95),(-0.6,-1.1),(-0.4,-0.9),(-0.2,-0.85),(0.28,-0.9),(0.38,-0.75),(0.42,-0.85),(0.2,-1.0),(0.05,-0.98),(-0.15,-0.98),(-0.32,-1.12),
    (-0.48,-1.05),(-0.75,-1.1),(-0.72,-1.05),(-0.9,-1.35),(-0.85,-1.28),(1.0,-0.65),(1.05,-0.8),(1.1,-0.55),(1.2,-0.65),(1.25,-0.72),(1.15,-0.35),(1.35,-0.35),(1.4,-0.45),
    (1.38,-0.58),(1.58,-0.55),(1.6,-0.25),(1.45,-0.1),(1.55,0.1),(1.72,0.05),(1.72,0.3),(1.8,0.45),(1.85,0.15),(2.0,0.2),(2.15,0.12),(2.3,0.12),(2.25,0.35),(2.0,0.52),
    (2.25,0.45),(2.45,0.55),(2.55,0.72),(2.38,0.95),(2.1,-0.2),(2.25,-0.2),(2.0,-0.1),
]
# batch 7 is mostly a solid mass: PC2 row -> PC1 values along that row
batch7_rows = {
    1.0: [-0.55,-0.42,-0.28,-0.15],
    0.92: [-0.63,-0.5,-0.36,-0.22],
    0.85: [-0.72,-0.58,-0.44,-0.3,-0.16],
    0.76: [-0.85,-0.7,-0.56,-0.42,-0.28,-0.14],
    0.68: [-0.95,-0.82,-0.68,-0.54,-0.4,-0.26,-0.12],
    0.6: [-1.0,-0.87,-0.73,-0.6,-0.46,-0.32,-0.18,-0.06],
    0.52: [-1.08,-0.94,-0.8,-0.66,-0.52,-0.38,-0.24,-0.1],
    0.44: [-1.13,-0.99,-0.85,-0.71,-0.57,-0.43,-0.29,-0.15,-0.01],
    0.36: [-1.2,-1.06,-0.92,-0.78,-0.64,-0.5,-0.36,-0.22,-0.08,0.06,0.2,0.34,0.48,0.62,0.76,0.9,1.04,1.18,1.32,1.46,1.6],
    0.29: [-1.27,-1.13,-0.99,-0.85,-0.71,-0.57,-0.43,-0.29,-0.15,-0.01,0.13,0.27,0.41,0.55,0.69,0.83,0.97,1.11,1.25,1.39,1.53,1.67],
    0.22: [-1.33,-1.2,-1.06,-0.92,-0.78,-0.64,-0.5,-0.36,-0.22,-0.08,0.06,0.2,0.34,0.48,0.62,0.76,0.9,1.04,1.18,1.32,1.46,1.6,1.72],
    0.15: [-1.3,-1.21,-1.07,-0.93,-0.79,-0.65,-0.51,-0.37,-0.23,-0.09,0.05,0.19,0.33,0.47,0.61,0.75,0.89,1.03,1.17,1.31,1.45,1.59,1.73],
    0.08: [-1.28,-1.14,-1.0,-0.86,-0.72,-0.58,-0.44,-0.3,-0.16,-0.02,0.12,0.26,0.4,0.54,0.68,0.82,0.96,1.1,1.24,1.38,1.52,1.66],
    0.0: [-1.2,-1.09,-0.95,-0.81,-0.67,-0.53,-0.39,-0.25,-0.11,0.03,0.17,0.31,0.45,0.59,0.73,0.87,1.01,1.15,1.29,1.43,1.57,1.71,1.85],
    -0.07: [-1.16,-1.02,-0.88,-0.74,-0.6,-0.46,-0.32,-0.18,-0.04,0.1,0.24,0.38,0.52,0.66,0.8,0.94,1.08,1.22,1.36,1.5,1.64,1.8],
    -0.15: [-1.08,-0.95,-0.81,-0.67,-0.53,-0.39,-0.25,-0.11,0.03,0.17,0.31,0.45,0.59,0.73,0.87,1.01,1.15,1.29,1.43,1.57,1.71,1.85,1.99],
    -0.22: [-1.02,-0.88,-0.74,-0.6,-0.46,-0.32,-0.18,-0.04,0.1,0.24,0.38,0.52,0.66,0.8,0.94,1.08,1.22,1.36,1.5,1.64,1.78,1.92,2.06,2.2],
    -0.3: [-0.98,-0.85,-0.71,-0.57,-0.43,-0.29,-0.15,-0.01,0.13,0.27,0.41,0.55,0.69,0.83,0.97,1.11,1.25,1.39,1.53,1.67,1.81,1.95,2.09],
    -0.37: [-0.92,-0.78,-0.64,-0.5,-0.36,-0.22,-0.08,0.06,0.2,0.34,0.48,0.62,0.76,0.9,1.04,1.18,1.32,1.46,1.6,1.74,1.88,2.02,2.16],
    -0.45: [-0.85,-0.71,-0.57,-0.43,-0.29,-0.15,-0.01,0.13,0.27,0.41,0.55,0.69,0.83,0.97,1.11,1.25,1.39,1.53,1.67,1.81,1.95],
    -0.52: [-0.78,-0.64,-0.5,-0.36,-0.22,-0.08,0.06,0.2,0.34,0.48,0.62,0.76,0.9,1.04,1.18,1.32,1.46,1.58],
    -0.6: [-0.7,-0.56,-0.42,-0.28,-0.14,0.0,0.14,0.28,0.42,0.56,0.7,0.84,0.98,1.12,1.26,1.4,1.54],
    -0.67: [-0.62,-0.48,-0.34,-0.2,-0.06,0.08,0.22,0.36,0.5,0.64,0.78,0.92,1.06,1.2,1.34,1.48],
    -0.75: [-0.55,-0.41,-0.27,-0.13,0.01,0.15,0.29,0.43,0.57,0.71,0.85,0.99,1.13,1.27,1.41],
    -0.82: [-0.48,-0.34,-0.2,-0.06,0.08,0.22,0.36,0.5,0.64,0.78,0.92,1.06,1.2,1.34,1.45],
    -0.9: [-0.4,-0.26,-0.12,0.02,0.16,0.3,0.44,0.58,0.72,0.86,1.0,1.14,1.28,1.4],
    -0.97: [-0.33,-0.19,-0.05,0.1,0.3,0.44,0.58,0.72,0.86,1.0,1.14,1.28,1.38],
    -1.05: [-0.25,-0.11,0.03,0.17,0.31,0.45,0.79,0.93,1.07,1.21,1.35],
    -1.12: [-0.18,-0.04,0.1,0.24,0.38,0.85,0.99,1.13,1.27,1.36],
    -1.2: [-0.08,0.06,0.2,0.34,0.48,0.92,1.06,1.2,1.32],
    -1.27: [0.1,0.24,0.38,1.0,1.14,1.28],
    -1.34: [0.18,0.32,1.05,1.15,1.27],
    -1.4: [0.25,0.4,1.08,1.2],
}
batch7 = [
    (0.4,-1.55),(0.55,-1.5),(0.6,-1.7),(0.75,-1.65),(0.7,-1.8),(0.85,-1.8),(0.8,-1.95),(0.95,-1.9),(0.65,-1.98),(0.85,-2.0),(1.15,-1.85),(1.05,-2.0),
    (1.2,-2.0),(1.15,-2.15),(1.3,-2.1),(1.4,-2.15),(1.55,-1.83),(1.35,-2.25),(1.5,-2.25),(1.2,-2.35),(1.3,-2.4),(1.45,-2.4),(1.6,-2.35),(1.4,-2.55),
    (1.55,-2.5),(1.7,-2.3),(1.5,-2.65),(1.65,-2.6),(1.72,-2.8),(1.9,-2.65),(2.05,-2.6),(2.2,-2.65),(2.0,-2.75),(2.15,-2.8),(1.95,-2.9),(2.1,-2.95),
    (2.25,-2.9),(2.38,-2.8),(2.5,-2.87),(2.23,-2.17),
    (-0.25,1.3),(-0.2,1.15),(-0.35,1.05),(-0.1,1.2),(0.0,1.15),(0.05,1.0),(-0.05,0.95),(0.15,1.05),(0.0,1.6),(0.1,1.55),(0.15,1.35),(0.3,1.35),(0.4,1.45),
    (0.25,1.5),(0.35,1.65),(0.45,1.6),(0.5,1.7),(0.3,1.1),(0.4,1.2),(0.5,1.25),(0.3,1.8),(0.45,1.85),(0.4,1.95),(0.5,2.05),(0.6,1.95),(0.7,1.85),(0.75,2.15),
    (0.65,2.1),(0.85,2.15),(0.85,1.95),(0.95,1.95),(1.0,2.05),(1.1,2.15),(1.2,2.25),(1.3,2.3),(1.4,2.25),(1.5,2.2),(1.25,2.4),(1.4,2.4),(1.55,2.45),(1.7,2.55),
    (1.75,2.4),(1.85,2.5),(1.9,2.6),(1.95,2.7),(2.05,2.75),(2.1,2.85),(2.2,2.8),(2.0,2.55),(1.65,2.65),(1.05,2.48),(1.15,2.5),(1.2,2.7),(1.05,2.78),(1.3,2.8),
    (1.25,2.62),(1.45,2.6),(1.55,2.93),
    (1.79,2.03),(2.5,1.77),(1.39,1.85),(1.29,1.97),(1.21,1.62),(1.21,1.52),(1.49,1.54),(0.86,1.57),(0.96,1.57),(1.31,1.37),(1.46,1.22),(1.66,1.16),(1.81,1.24),
    (1.84,1.06),(0.81,1.16),(1.01,0.99),(1.34,0.9),(0.59,0.91),(0.71,0.84),(0.91,0.89),(0.14,1.01),(0.39,1.09),(0.01,0.74),(0.26,0.66),(0.41,0.66),(1.04,0.71),
    (1.11,0.74),(0.99,0.61),(1.64,0.66),(1.89,0.67),(2.31,0.9),(2.7,0.61),(2.01,0.43),
    (2.16,0.25),(2.31,0.3),(2.46,0.3),(2.74,0.23),(2.56,0.2),(2.39,0.23),(1.96,0.2),(2.56,0.03),(2.76,-0.05),(2.61,-0.15),(2.99,-0.26),(2.66,-0.3),(2.76,-0.4),
    (2.88,-0.5),(2.56,-0.46),(2.46,-0.46),(2.76,-0.61),(2.54,-0.68),(2.39,-0.76),(2.26,-0.9),(2.52,-0.9),(1.91,-0.9),(1.89,-0.5),(2.21,-0.5),
    (0.5,-1.6),(0.65,-1.6),(0.7,-1.72),(0.8,-1.72),(0.78,-1.88),(0.9,-1.85),(1.1,-1.92),(1.2,-1.92),(1.25,-2.05),(1.35,-2.05),(1.25,-2.2),(1.4,-2.3),(1.28,-2.28),
    (1.5,-2.35),(1.55,-2.42),(1.45,-2.5),(1.5,-2.55),(1.6,-2.55),(1.95,-2.7),(2.05,-2.7),(2.1,-2.75),(2.05,-2.85),(2.15,-2.88),(2.0,-2.85),(1.98,-2.95),(2.2,-2.75),
    (0.15,1.25),(0.22,1.2),(0.1,1.15),(0.15,1.15),(0.3,1.25),(0.42,1.35),(0.35,1.55),(0.5,1.5),(0.55,1.6),(0.6,1.75),(0.55,1.85),(0.72,1.95),(0.8,2.05),(0.95,2.05),
    (1.15,2.25),(1.35,2.35),(1.5,2.32),(1.45,2.3),(1.6,2.4),(1.65,2.45),(1.75,2.5),(1.8,2.55),(1.9,2.52),(1.95,2.62),(2.02,2.68),(2.05,2.82),
    (-0.05,1.1),(-0.15,1.05),(-0.25,1.1),(0.1,1.3),(0.0,1.3),
    (0.0,1.4),(0.05,1.2),(0.2,1.3),(0.3,1.45),(0.4,1.55),(0.22,1.4),(0.55,1.42),(-0.1,1.3),(-0.35,1.15),(0.0,0.85),(0.15,0.9),(0.1,0.72),(0.3,0.85),(0.5,0.5),(0.7,0.5),
    (0.9,0.5),(1.1,0.5),(1.3,0.5),(1.5,0.48),(0.3,0.5),(0.1,0.5),(1.05,0.55),(1.15,0.62),
    (1.75,0.3),(1.85,0.1),(1.95,0.0),(2.05,0.05),(2.15,0.1),(1.9,-0.1),(2.1,-0.05),(2.2,-0.1),(2.3,0.1),(2.45,0.15),(2.6,0.1),(2.65,0.28),(1.85,0.3),(2.05,0.3),(2.2,0.2),
    (2.0,0.15),(1.8,-0.6),(2.0,-0.55),(1.7,-0.7),(2.1,-0.6),(1.65,-0.55),(2.5,-0.3),(2.6,-0.55),(2.7,-0.5),(2.65,-0.15),(2.7,0.0),
    (0.6,-1.08),(0.65,-1.12),(0.72,-1.12),(1.2,-2.1),(1.1,-2.05),(1.25,-2.3),(1.4,-2.42),(1.35,-2.35),(1.55,-2.3),(1.6,-2.45),(1.65,-2.5),(1.35,-2.48),(1.1,-2.35),
]
batch8 = [
    (0.66,2.78),(-0.6,2.62),(-1.0,2.47),(-0.74,2.35),(-0.54,2.35),(-0.44,2.33),(-1.09,2.23),(-0.77,2.23),
    (-1.09,1.95),(-1.01,1.93),(-0.94,1.85),(-0.86,1.83),(-1.21,1.78),(-1.11,1.62),(-1.09,1.57),(-1.14,1.67),(-0.69,1.65),(-0.67,1.6),(-0.62,1.6),
    (-1.11,0.94),(-1.06,1.01),(-1.01,1.09),(-0.96,1.16),(-0.89,1.23),(-0.81,1.27),(-0.71,1.29),(-0.61,1.29),(-0.51,1.37),(-0.36,1.37),(-0.26,1.34),(-0.19,1.37),(-0.06,1.33),
    (-0.29,1.27),(-0.24,1.22),(-0.16,1.22),(-0.26,1.14),(-0.19,1.11),(-0.29,1.04),(-0.16,0.86),(-0.11,0.71),(0.01,0.61),(-0.01,0.53),(0.03,0.56),(-0.04,0.46),(0.01,0.35),
    (0.06,0.25),(0.03,0.23),(-0.07,0.01),(0.44,1.38),(0.23,1.04),(0.61,0.84),(0.84,0.71),(0.34,0.55),(0.44,0.55),(0.39,0.53),
    (-1.06,0.66),(-1.04,0.56),(-1.11,0.51),(-1.21,0.46),(-1.14,0.41),(-1.01,0.41),(-1.19,0.3),(-1.09,0.3),(-0.96,0.25),(-1.19,0.2),(-1.11,0.13),(-1.11,-0.05),(-1.09,-0.18),
    (-1.14,-0.33),(-1.06,-0.41),(-1.04,-0.28),
    (-0.78,0.0),(-0.79,-0.08),(-0.79,-0.15),(-0.78,-0.23),(-0.74,-0.1),(-0.74,-0.03),(-0.76,-0.18),(-0.84,-0.33),
    (-0.98,-0.67),(-0.56,-0.85),(-0.84,-0.91),(-0.77,-0.94),(-0.74,-1.09),(-0.52,-1.06),(-0.69,-1.14),(-0.69,-1.22),(-0.65,-1.35),(-0.77,-1.03),
    (-0.13,-1.05),(-0.1,-1.1),(-0.05,-1.0),(-0.12,-1.12),(0.0,-1.0),(-0.08,-1.03),
    (0.11,-0.96),(0.26,-0.91),(0.39,-0.84),(0.49,-0.79),(0.61,-0.76),(0.71,-0.68),(0.81,-0.63),(0.91,-0.56),(1.04,-0.51),(1.14,-0.43),(1.26,-0.38),(1.36,-0.38),(1.51,-0.4),
    (1.66,-0.33),(1.26,-0.2),(1.31,-0.25),(1.36,-0.15),(1.44,-0.08),
    (1.52,1.08),(1.34,0.95),(1.31,0.71),(1.44,0.69),(1.56,0.61),(1.61,0.51),(1.41,0.48),(1.53,0.48),(1.66,0.28),(1.49,0.25),(1.36,0.23),(1.16,0.23),(1.11,0.08),(1.26,0.13),
    (1.44,0.1),(1.64,0.1),(1.04,-0.06),(1.56,0.23),(1.35,-1.09),(1.11,-1.23),(1.41,-1.39),(1.44,-1.49),(1.38,-1.08),
    (-1.08,0.98),(-1.03,1.05),(-0.98,1.12),(-0.92,1.2),(-0.85,1.25),(-0.76,1.28),(-0.66,1.29),(-0.22,1.3),(-0.25,1.2),(-0.21,1.18),(-0.22,1.1),(-0.27,1.18),(-1.08,0.6),
    (-1.08,0.5),(-1.12,0.4),(-1.1,0.45),(-1.05,0.35),(-1.15,0.3),(-1.12,0.25),(-1.05,0.25),(-1.15,0.15),(-0.78,-0.05),(-0.78,-0.12),(-0.76,-0.2),(-0.76,-0.06),(0.02,0.6),
    (-0.02,0.48),(0.02,0.4),(0.04,0.3),(-0.03,0.56),(-0.08,-1.08),(-0.06,-1.05),(-0.11,-1.02),(0.05,-0.98),(0.18,-0.93),(0.32,-0.87),(0.44,-0.81),(0.55,-0.77),(0.66,-0.72),
    (0.76,-0.65),(0.86,-0.6),(0.97,-0.53),(1.09,-0.47),(1.2,-0.4),(1.31,-0.36),(1.42,-0.38),(1.3,-0.3),(1.38,-0.22),(1.4,-0.1),(1.4,0.18),(1.46,0.2),(1.52,0.3),(1.55,0.18),
    (1.6,0.25),(1.56,0.5),(1.58,0.55),(1.5,0.6),(1.3,0.15),(1.2,0.15),(1.42,0.05),(-0.72,-1.1),(-0.7,-1.0),(-0.1,0.78),
    (-1.02,0.5),(-1.18,0.38),(-1.02,0.32),(-1.2,0.28),(-0.98,0.3),(-1.1,0.6),(-0.82,-0.05),(-0.74,-0.2),(-0.8,-0.22),(-0.3,1.18),(-0.18,1.28),(-0.3,1.32),(-0.14,1.15),
    (-1.1,-0.35),(-0.7,-0.3),(-0.72,-0.33),(1.5,0.4),(1.62,0.42),(1.65,0.2),(1.28,0.25),(1.48,0.35),(1.65,0.5),(1.45,0.62),
]
batch9 = [
    (-0.3,2.92),(-0.09,2.79),(0.2,2.88),(0.37,2.76),(0.12,2.64),(-0.25,2.47),(0.2,2.5),(0.37,2.5),(0.3,2.4),(0.52,2.37),(0.37,2.35),(0.3,2.25),(0.3,2.13),(0.4,2.1),
    (0.47,1.86),(0.43,1.8),(0.44,1.72),
    (-0.55,1.49),(-0.5,1.37),(-0.6,1.37),(-0.52,1.27),(-0.65,1.27),(-0.52,1.16),(-0.7,1.16),(-0.78,1.06),(-0.68,1.06),(-0.75,0.99),(-0.6,1.16),(-0.83,1.04),
    (0.2,0.81),(0.23,0.68),(0.25,0.61),(0.33,0.41),(0.15,0.35),(0.25,0.35),(0.25,0.23),(0.37,0.2),(0.1,0.1),(0.05,0.1),(0.17,0.11),(0.45,0.08),
    (-0.38,0.57),(-0.38,0.3),(-0.38,0.13),(-0.18,0.16),(-0.6,-0.06),(-0.28,-0.08),(-0.05,-0.11),(-0.55,-0.33),(-0.86,-1.0),
    (0.78,-0.02),(0.68,-0.05),(0.58,-0.13),(0.53,-0.2),(0.45,-0.3),(0.38,-0.4),(0.3,-0.5),(0.2,-0.6),(0.1,-0.73),(-0.03,-0.83),(-0.13,-0.93),(-0.25,-1.0),(-0.33,-1.13),
    (0.58,-0.05),(0.48,-0.15),(0.38,-0.25),(0.3,-0.15),(0.23,-0.3),(0.15,-0.35),(0.03,-0.33),(-0.13,-0.3),(-0.23,-0.38),(-0.15,-0.5),(-0.28,-0.55),(-0.38,-0.6),(-0.48,-0.58),
    (-0.33,-0.65),(-0.13,-0.65),(0.22,-0.45),
    (-1.03,-0.48),(-0.93,-0.5),(-0.83,-0.5),(-0.73,-0.48),(-0.68,-0.53),(-0.75,-0.58),(-0.88,-0.47),(-0.63,-0.5),
    (-0.48,-1.27),(-0.35,-1.37),(-0.25,-1.35),(-0.18,-1.35),(-0.3,-1.32),(-0.33,-1.38),
    (2.33,0.02),(2.51,-0.05),(2.61,0.0),(2.71,0.0),(2.64,0.05),(2.74,0.03),(2.56,-0.03),
    (-0.55,1.3),(-0.6,1.25),(-0.65,1.2),(-0.55,1.2),(-0.6,1.3),(-0.52,1.32),(-0.7,1.1),(-0.62,1.1),(-0.75,1.05),(-0.72,1.02),(-0.68,1.13),(-0.57,1.22),(-0.55,1.4),(-0.57,1.1),
    (0.73,-0.03),(0.63,-0.08),(0.55,-0.17),(0.49,-0.25),(0.42,-0.35),(0.34,-0.45),(0.25,-0.55),(0.15,-0.67),(0.05,-0.78),(0.53,-0.1),(0.43,-0.2),(0.33,-0.3),(0.7,-0.1),(0.6,-0.02),
    (0.28,-0.4),(-0.43,-0.6),(-0.35,-0.55),(-0.25,-0.5),(-0.2,-0.45),(-0.3,-0.6),(-0.38,-0.65),(-0.42,-0.62),
    (-0.98,-0.48),(-0.88,-0.52),(-0.78,-0.5),(-0.7,-0.48),(-0.8,-0.55),(-0.93,-0.47),(-0.28,-1.35),(-0.22,-1.35),(-0.3,-1.38),(-0.2,-1.33),
    (2.68,0.0),(2.65,-0.03),(2.7,0.03),(2.6,-0.05),(2.75,-0.02),(2.58,0.0),(0.43,1.82),(0.45,1.78),(0.47,1.82),
    (-0.65,1.05),(-0.6,1.05),(-0.48,1.3),(-0.5,1.22),(-0.48,1.15),(-0.8,1.08),(0.28,-0.25),(0.22,-0.2),(0.1,-0.25),(0.0,-0.4),(-0.1,-0.45),(0.15,-0.5),(0.08,-0.45),(-0.05,-0.55),
    (-0.42,-0.55),(-0.5,-0.62),(0.12,-0.6),(0.2,-0.68),(0.65,-0.12),(0.55,-0.25),(0.45,-0.4),
]
# batch 10 has a solid body too, same row layout as batch 7
batch10_rows = {
    1.75: [-0.6,-0.48,-0.36,-0.24,-0.12],
    1.68: [-0.55,-0.43,-0.31,-0.19],
    1.62: [-0.62,-0.5,-0.38,-0.26,-0.14],
    1.56: [-0.58,-0.46,-0.34,-0.22],
    1.5: [-0.66,-0.54,-0.42,-0.3,-0.18],
    1.44: [-0.6,-0.48,-0.36,-0.24],
    1.38: [-0.66,-0.54,-0.42,-0.3,-0.18],
    1.32: [-0.6,-0.48,-0.36,-0.24],
    1.26: [-0.66,-0.54,-0.42,-0.3,-0.18],
    1.2: [-0.6,-0.48,-0.36,-0.24],
    1.14: [-0.68,-0.56,-0.44,-0.32,-0.2],
    1.08: [-0.62,-0.5,-0.38,-0.26],
    1.02: [-0.7,-0.58,-0.46,-0.34,-0.22],
    0.96: [-0.64,-0.52,-0.4,-0.28],
    0.9: [-0.7,-0.58,-0.46,-0.34,-0.22],
    0.84: [-0.64,-0.52,-0.4,-0.28],
    0.78: [-0.64,-0.52,-0.4,-0.28,-0.18],
    0.71: [-0.58,-0.46,-0.34,-0.22],
    0.64: [-0.68,-0.56,-0.44,-0.32,-0.2],
    0.57: [-0.7,-0.58,-0.46,-0.34,-0.22],
    0.5: [-0.73,-0.6,-0.47,-0.34,-0.2,-0.1],
    0.43: [-0.72,-0.58,-0.44,-0.3,-0.16],
    0.36: [-0.7,-0.56,-0.42,-0.28,-0.14],
    0.29: [-0.6,-0.46,-0.32,-0.18],
    0.22: [-0.52,-0.4,-0.28,-0.16,-0.06],
    0.15: [-0.5,-0.38,-0.26,-0.14],
    0.08: [-0.56,-0.44,-0.32,-0.2,-0.08],
    0.01: [-0.62,-0.5,-0.38,-0.26,-0.14],
    -0.06: [-0.7,-0.58,-0.46,-0.34,-0.22,-0.1,0.52],
    -0.12: [-0.74,-0.62,-0.5,-0.38,-0.26,-0.14,-0.04,0.46,0.58],
    -0.18: [-0.8,-0.68,-0.56,-0.44,-0.32,-0.2,-0.08,0.4,0.52,0.62],
    -0.24: [-0.78,-0.66,-0.54,-0.42,-0.3,-0.18,-0.06,0.34,0.46,0.58],
    -0.3: [-0.84,-0.72,-0.6,-0.48,-0.36,-0.24,-0.12,0.0,0.28,0.4,0.52,0.62],
    -0.36: [-0.78,-0.66,-0.54,-0.42,-0.3,-0.18,-0.06,0.06,0.18,0.3,0.42,0.54,0.64],
    -0.42: [-0.88,-0.76,-0.64,-0.52,-0.4,-0.28,-0.16,-0.04,0.08,0.2,0.32,0.44,0.56,0.66],
    -0.48: [-0.82,-0.7,-0.58,-0.46,-0.34,-0.22,-0.1,0.02,0.14,0.26,0.38,0.5,0.62],
    -0.54: [-0.86,-0.74,-0.62,-0.5,-0.38,-0.26,-0.14,-0.02,0.1,0.22,0.34,0.46,0.58,0.68],
    -0.6: [-0.8,-0.68,-0.56,-0.44,-0.32,-0.2,-0.08,0.04,0.16,0.28,0.4,0.52,0.64],
    -0.66: [-0.76,-0.64,-0.52,-0.4,-0.28,-0.16,-0.04,0.08,0.2,0.32,0.44,0.56,0.68],
    -0.72: [-0.62,-0.5,-0.38,-0.26,-0.14,-0.02,0.1,0.22,0.34,0.46,0.58,0.7],
    -0.78: [-0.6,-0.48,-0.36,-0.24,-0.12,0.0,0.12,0.24,0.36,0.48,0.6,0.7],
    -0.84: [-0.54,-0.42,-0.3,-0.18,-0.06,0.06,0.18,0.3,0.42,0.54,0.66],
    -0.9: [-0.48,-0.36,-0.24,-0.12,0.0,0.12,0.24,0.36,0.48,0.6],
    -0.95: [-0.42,-0.3,-0.18,-0.06,0.06,0.18,0.3,0.42,0.54],
    -1.0: [-0.4,-0.28,-0.16,-0.04,0.08,0.2,0.32,0.44,0.54],
    -1.06: [-0.36,-0.24,-0.12,0.0],
    -1.12: [-0.3,-0.2,-0.1],
}
batch10 = [
    (-0.26,2.84),(-0.32,2.75),(-0.4,2.7),(-0.3,2.65),(-0.42,2.55),(-0.32,2.5),(-0.48,2.45),(-0.38,2.4),(-0.28,2.38),(-0.52,2.3),(-0.42,2.28),(-0.3,2.25),(-0.55,2.15),
    (-0.42,2.15),(-0.3,2.12),(-0.58,2.0),(-0.46,2.02),(-0.34,2.0),(-0.58,1.88),(-0.46,1.88),(-0.34,1.88),
    (-0.5,2.35),(-0.36,2.32),(-0.48,2.2),(-0.36,2.2),(-0.52,2.08),(-0.4,2.08),(-0.28,2.05),(-0.52,1.95),(-0.4,1.95),(-0.28,1.95),(-0.5,1.82),(-0.4,1.82),(-0.28,1.82),(-0.36,2.6),(-0.35,2.47),
    (0.17,1.6),(0.15,1.37),(0.2,1.22),(0.57,1.27),(0.42,1.14),(0.45,0.99),(0.27,0.86),(0.15,0.99),(-0.08,1.16),(-0.1,0.76),(-0.05,0.56),(0.15,0.56),(0.32,0.41),(0.17,0.35),
    (0.47,0.63),(0.7,0.56),(0.68,0.47),(0.87,0.65),(0.15,0.08),(0.92,-0.05),(0.37,2.27),(0.05,0.41),(0.1,0.68),(0.0,1.65),(0.05,1.5),
    (0.7,-1.09),(0.7,-1.22),(0.42,-1.39),(0.8,-1.32),(0.65,-1.47),(0.85,-1.47),(0.55,-1.6),(0.75,-1.62),(0.95,-1.57),(1.02,-1.72),(0.7,-1.77),(0.87,-1.77),(0.8,-1.9),(0.95,-1.97),
    (0.97,-2.05),(0.9,-1.97),
    (1.45,-0.46),(1.5,-0.56),(1.45,-0.71),(1.57,-0.71),(1.72,-0.68),(1.47,-0.94),(1.62,-0.96),(1.2,-1.14),(1.75,-1.06),(1.55,-1.16),(1.42,-1.27),(1.7,-1.27),(1.82,-1.27),
    (1.35,-1.5),(1.52,-1.42),(1.7,-1.45),(1.87,-1.47),(1.42,-1.67),(1.57,-1.62),(1.95,-1.67),(1.6,-1.77),(1.75,-1.82),(1.85,-1.92),(1.92,-2.05),(1.87,-2.07),(1.82,-1.67),
    (2.0,0.53),(2.25,0.56),(2.0,0.23),(2.12,0.28),(2.1,0.13),(2.25,0.05),(2.12,-0.05),(2.0,-0.2),(1.9,-0.41),(2.1,-0.25),(2.25,-0.2),(2.15,-0.46),(2.32,-0.35),(2.25,-0.61),
    (2.42,-0.51),(2.37,-0.73),(2.5,-0.66),(2.55,-0.84),(2.47,-0.94),(2.0,-0.8),(2.02,-1.05),(2.15,-1.1),(2.37,-1.14),(2.47,-1.14),(2.6,-1.39),(2.57,-1.5),(2.5,-1.22),(2.8,-1.14),
    (2.95,2.87),(2.93,2.6),(2.62,2.2),(2.5,1.81),(2.52,1.4),(2.57,1.37),(2.7,1.34),(2.85,1.48),(2.97,1.23),(2.5,1.08),(2.65,1.01),(2.8,1.06),(2.95,0.91),(2.6,0.81),(2.75,0.86),
    (2.85,0.71),(2.97,0.76),(2.7,0.68),(2.97,0.61),(2.55,0.53),(2.7,0.51),(2.85,0.51),(2.97,0.5),(2.65,0.35),(2.9,0.3),(2.97,0.24),(2.85,0.15),(2.55,0.1),(2.42,0.08),(2.65,-0.05),
    (2.8,-0.05),(2.7,-0.18),(2.97,-0.29),(2.52,0.03),
    (0.72,-1.3),(0.7,-1.4),(0.75,-1.5),(0.65,-1.55),(0.85,-1.55),(0.8,-1.6),(0.8,-1.7),(0.9,-1.67),(0.95,-1.7),(0.75,-1.45),(0.85,-1.85),(0.92,-1.9),(0.92,-2.0),
    (1.55,-0.85),(1.6,-1.05),(1.65,-1.15),(1.5,-1.25),(1.6,-1.3),(1.5,-1.35),(1.6,-1.42),(1.7,-1.35),(1.8,-1.4),(1.45,-1.45),(1.65,-1.55),(1.75,-1.6),(1.65,-1.72),(1.85,-1.72),
    (1.88,-1.95),(1.9,-2.0),(1.55,-1.5),(1.42,-1.15),
    (2.1,-0.1),(2.2,-0.1),(2.2,-0.3),(2.3,-0.45),(2.2,-0.45),(2.35,-0.55),(2.3,-0.68),(2.42,-0.7),(2.45,-0.78),(2.15,-0.15),(2.25,-0.05),
    (2.7,0.8),(2.8,0.8),(2.9,0.8),(2.65,0.72),(2.75,0.7),(2.9,0.62),(2.8,0.6),(2.7,0.6),(2.6,0.65),(2.85,0.92),(2.7,0.95),(2.6,0.95),
]

for pc2, pc1_values in batch7_rows.items():
    batch7 += [(pc1, pc2) for pc1 in pc1_values]
for pc2, pc1_values in batch10_rows.items():
    batch10 += [(pc1, pc2) for pc1 in pc1_values]

batches = [batch1, batch2, batch3, batch4, batch5, batch6, batch7, batch8, batch9, batch10]
y_ticks = [-3, -2, -1, 0, 1, 2, 3]
x_ticks = [-2, 0, 2]

sns.set_style("ticks")
plt.rcParams["font.family"] = ["Liberation Sans", "DejaVu Sans"]
plt.rcParams["axes.unicode_minus"] = False

fig, axes = plt.subplots(2, 5, figsize=(16, 8.05), dpi=200)
fig.subplots_adjust(left=105/3200, right=3170/3200, top=1-60/1610, bottom=1-1499/1610,
                    wspace=155/489, hspace=236/601)

for i, ax in enumerate(axes.flat):
    df = pd.DataFrame(batches[i], columns=["PC1", "PC2"])
    sns.scatterplot(data=df, x="PC1", y="PC2", ax=ax, marker=(8, 2, 0), s=68,
                    color="#0072BD", linewidth=1.15, clip_on=False, zorder=3)
    ax.set_xlim(-3, 3)
    ax.set_ylim(-3, 3)
    ax.set_xticks(x_ticks)
    ax.set_yticks(y_ticks)
    ax.tick_params(direction="in", length=1.8, width=0.7, top=True, right=True,
                   labelsize=10.6, colors="#262626")
    ax.tick_params(axis="x", pad=7)
    ax.tick_params(axis="y", pad=5.5)
    ax.set_title(f"Original Batch {i+1}", fontsize=12.9, color="black", pad=5.5)
    ax.set_xlabel("PC1", fontsize=11.7, color="#262626", labelpad=5)
    ax.set_ylabel("PC2", fontsize=11.7, color="#262626", labelpad=5)
    for spine in ax.spines.values():
        spine.set_linewidth(0.75)
        spine.set_color("#262626")

fig.savefig("out.png", dpi=200)
